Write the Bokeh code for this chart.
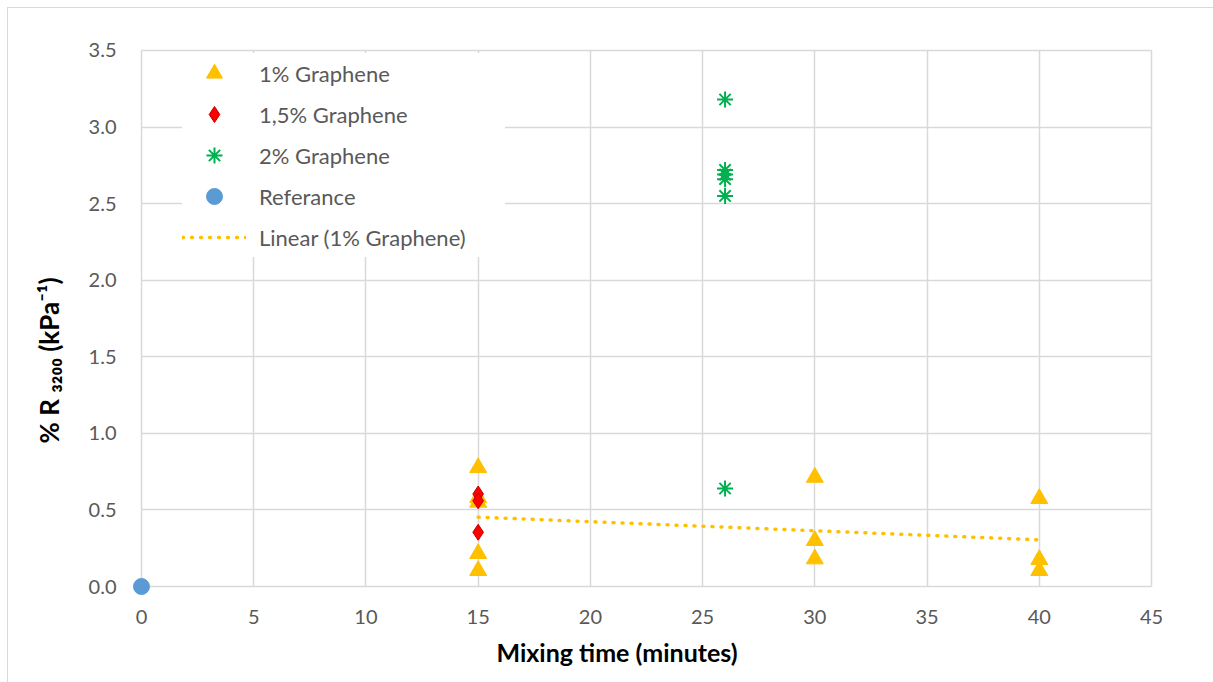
import numpy as np
from bokeh.plotting import figure
from bokeh.models import (Range1d, FixedTicker, NumeralTickFormatter, Legend, LegendItem, Title)
from bokeh.embed import file_html
from bokeh.resources import INLINE

# ---- data ----
g1_x = [15, 15, 15, 15, 15, 30, 30, 30, 40, 40, 40]
g1_y = [0.776, 0.58, 0.55, 0.215, 0.104, 0.713, 0.30, 0.18, 0.574, 0.176, 0.104]
g15_x = [15, 15, 15]
g15_y = [0.604, 0.56, 0.354]
g2_x = [26, 26, 26, 26, 26, 26]
g2_y = [3.18, 2.72, 2.69, 2.66, 2.55, 0.64]
ref_x = [0]
ref_y = [0]
x_ticks = [0, 5, 10, 15, 20, 25, 30, 35, 40, 45]
y_ticks = [0.0, 0.5, 1.0, 1.5, 2.0, 2.5, 3.0, 3.5]

# linear trendline of 1% series (least squares, as Excel does)
slope, intercept = np.polyfit(g1_x, g1_y, 1)
trend_x = [min(g1_x), max(g1_x)]
trend_y = [slope * v + intercept for v in trend_x]

FONT = "Lato"
GREY = "#595959"
GRID = "#d9d9d9"

XPAD = 0.4
YPAD = 0.0587

p = figure(width=1206, height=675, output_backend="svg", toolbar_location=None,
           x_range=Range1d(x_ticks[0] - XPAD, x_ticks[-1] + XPAD),
           y_range=Range1d(y_ticks[0] - YPAD, y_ticks[-1] + YPAD),
           min_border_left=124, min_border_right=54, min_border_top=33, min_border_bottom=88,
           background_fill_color="white", border_fill_color="white")
p.margin = (7, 0, 0, 7)
p.styles = {"border-top": "1px solid #d9d9d9", "border-left": "1px solid #d9d9d9"}
p.outline_line_color = None

for ax in (p.xaxis[0], p.yaxis[0]):
    ax.major_tick_line_color = None
    ax.minor_tick_line_color = None
    ax.axis_line_color = None
    ax.major_label_text_font = FONT
    ax.major_label_text_font_size = "20px"
    ax.major_label_text_color = GREY

p.xaxis.ticker = FixedTicker(ticks=x_ticks)
p.yaxis.ticker = FixedTicker(ticks=y_ticks)
p.yaxis.formatter = NumeralTickFormatter(format="0.0")
p.xaxis.formatter = NumeralTickFormatter(format="0")
p.xaxis.major_label_standoff = 8
p.yaxis.major_label_standoff = 10

p.xgrid.grid_line_color = GRID
p.ygrid.grid_line_color = GRID
p.xgrid.grid_line_width = 1.5
p.ygrid.grid_line_width = 1.5
p.xgrid.bounds = (x_ticks[0], x_ticks[-1])
p.ygrid.bounds = (y_ticks[0], y_ticks[-1])
p.xgrid.cross_bounds = (y_ticks[0], y_ticks[-1])
p.ygrid.cross_bounds = (x_ticks[0], x_ticks[-1])

r1 = p.scatter(g1_x, g1_y, marker="triangle", size=17, fill_color="#FFC000", line_color="#FFC000")
r15 = p.scatter(g15_x, g15_y, marker="diamond", size=16,
                fill_color="#FF0000", line_color="#C00000", line_width=1)
r2 = p.scatter(g2_x, g2_y, marker="asterisk", size=16,
               line_color="#00B050", line_width=2)
rr = p.scatter(ref_x, ref_y, marker="circle", size=16, fill_color="#5B9BD5", line_color="#5B9BD5")
rt = p.line(trend_x, trend_y, line_color="#FFC000", line_width=3.5, line_dash="1 8",
            line_cap="round")

legend = Legend(items=[
    LegendItem(label="1% Graphene", renderers=[r1]),
    LegendItem(label="1,5% Graphene", renderers=[r15]),
    LegendItem(label="2% Graphene", renderers=[r2]),
    LegendItem(label="Referance", renderers=[rr]),
    LegendItem(label="Linear (1% Graphene)", renderers=[rt]),
], location=(50, 338))
legend.border_line_color = None
legend.background_fill_color = "white"
legend.background_fill_alpha = 1.0
legend.padding = 5
legend.spacing = 1
legend.glyph_width = 64
legend.glyph_height = 40
legend.label_height = 40
legend.label_width = 246
legend.label_standoff = 13
legend.label_text_font = FONT
legend.label_text_font_size = "22px"
legend.label_text_color = GREY
legend.margin = 0
p.add_layout(legend, "center")

# axis titles
p.add_layout(Title(text="Mixing time (minutes)", align="left", offset=364, standoff=16,
                   text_font=FONT, text_font_style="bold", text_font_size="25px",
                   text_color="black"), "below")
p.add_layout(Title(text="% R \u2083\u2082\u2080\u2080 (kPa\u207B\u00B9)", align="left", offset=152,
                   standoff=42, text_font=FONT, text_font_style="bold", text_font_size="26px",
                   text_color="black"), "left")

open("out.html", "w").write(file_html(p, INLINE))
